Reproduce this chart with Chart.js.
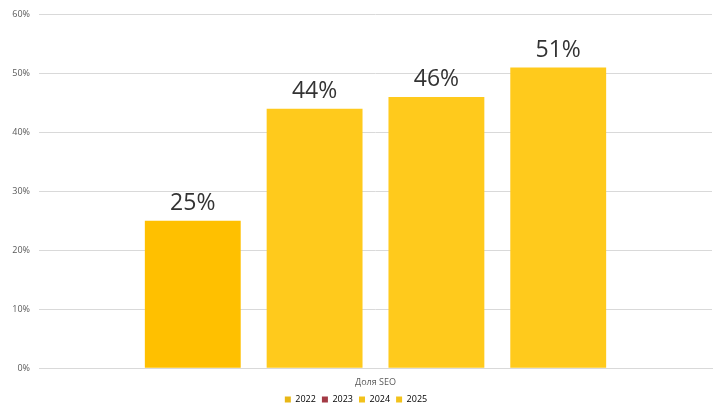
<!DOCTYPE html>
<html lang="ru">
<head>
    <meta charset="UTF-8">
    <title>Доля SEO</title>
    <script src="https://cdn.jsdelivr.net/npm/chart.js"></script>
    <style>
        body {
            margin: 0;
            background-color: #ffffff;
        }
        .chart-container {
            position: relative;
            width: 720px;
            height: 409px;
        }
    </style>
</head>
<body>
    <div class="chart-container">
        <canvas id="seoChart"></canvas>
    </div>

    <script>
        const categories = ['Доля SEO'];
        const years = ['2022', '2023', '2024', '2025'];
        const shares = [25, 44, 46, 51];
        const barColors = ['#FFC000', '#FFCA1C', '#FFCA1C', '#FFCA1C'];
        const legendColors = ['#E8B716', '#A33A45', '#F2C21C', '#F2C21C'];
        const yTicks = [0, 10, 20, 30, 40, 50, 60];

        // draws the big "25%" labels above each bar
        const valueLabels = {
            id: 'valueLabels',
            afterDatasetsDraw(chart) {
                const ctx = chart.ctx;
                ctx.save();
                ctx.font = '23px "Open Sans", sans-serif';
                ctx.fillStyle = '#333333';
                ctx.textAlign = 'center';
                ctx.textBaseline = 'bottom';
                chart.data.datasets.forEach((ds, i) => {
                    const meta = chart.getDatasetMeta(i);
                    meta.data.forEach((bar, j) => {
                        ctx.fillText(ds.data[j] + '%', bar.x, bar.y - 6);
                    });
                });
                ctx.restore();
            }
        };

        const datasets = years.map((year, i) => ({
            label: year,
            data: [shares[i]],
            backgroundColor: barColors[i],
            legendColor: legendColors[i],
            borderWidth: 0
        }));

        new Chart(document.getElementById('seoChart'), {
            type: 'bar',
            data: {
                labels: categories,
                datasets: datasets
            },
            options: {
                responsive: true,
                maintainAspectRatio: false,
                animation: false,
                categoryPercentage: 0.724,
                barPercentage: 0.787,
                layout: {
                    padding: { top: 11, right: 8, left: 0, bottom: -5 }
                },
                plugins: {
                    tooltip: { enabled: false },
                    legend: {
                        position: 'bottom',
                        labels: {
                            boxWidth: 6,
                            boxHeight: 6,
                            padding: 6,
                            color: '#595959',
                            font: { family: '"Open Sans", sans-serif', size: 9 },
                            generateLabels(chart) {
                                return chart.data.datasets.map((ds, i) => ({
                                    text: ds.label,
                                    fillStyle: ds.legendColor,
                                    strokeStyle: ds.legendColor,
                                    lineWidth: 0,
                                    datasetIndex: i
                                }));
                            }
                        }
                    }
                },
                scales: {
                    x: {
                        grid: { display: false },
                        border: { display: true, color: '#d9d9d9' },
                        ticks: {
                            color: '#595959',
                            font: { family: '"Open Sans", sans-serif', size: 9 },
                            padding: 1
                        }
                    },
                    y: {
                        min: 0,
                        max: 60,
                        afterFit(scale) { scale.width = 39; },
                        afterBuildTicks(scale) {
                            scale.ticks = yTicks.map(v => ({ value: v }));
                        },
                        border: { display: false },
                        grid: {
                            color: '#d9d9d9',
                            drawTicks: false
                        },
                        ticks: {
                            color: '#595959',
                            font: { family: '"Open Sans", sans-serif', size: 9 },
                            padding: 9,
                            callback: v => v + '%'
                        }
                    }
                }
            },
            plugins: [valueLabels]
        });
    </script>
</body>
</html>
